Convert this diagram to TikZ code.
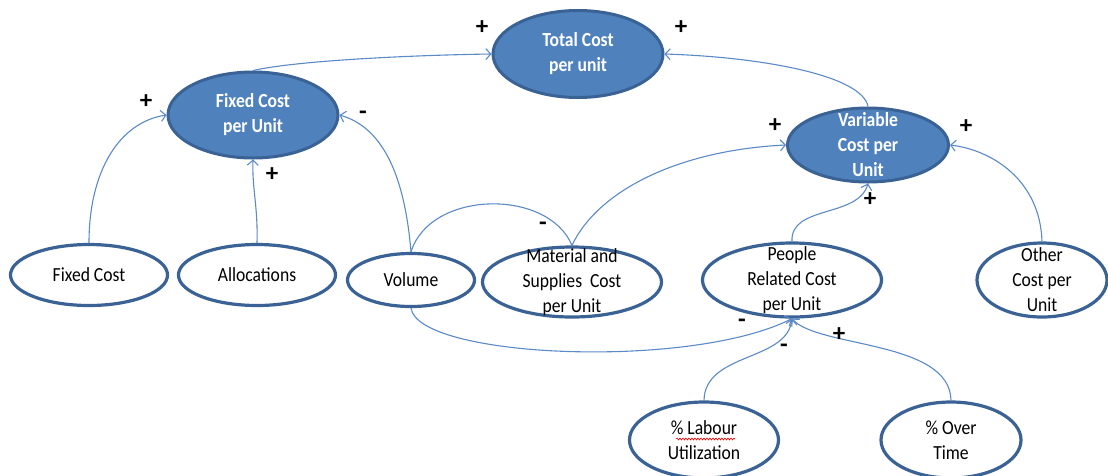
\documentclass[tikz,border=0pt]{standalone}
\usepackage{fontspec}
\setmainfont{Carlito}
\newfontfamily\cf[FakeStretch=0.88]{Carlito}
\usetikzlibrary{shapes.geometric,arrows.meta,decorations.pathmorphing}
\definecolor{fl}{HTML}{4F81BD}
\definecolor{bd}{HTML}{3A6294}
\definecolor{ln}{HTML}{5B8AC6}
\begin{document}
\begin{tikzpicture}[x=1pt,y=-1pt,
  filled/.style={ellipse, draw=bd, fill=fl, line width=3pt, inner sep=0pt},
  plain/.style={ellipse, draw=bd, fill=white, line width=3.2pt, inner sep=0pt},
  wtxt/.style={font=\cf\fontsize{20}{25}\selectfont\bfseries, text=white, align=center, inner sep=0pt},
  btxt/.style={font=\cf\fontsize{20}{25}\selectfont, text=black, align=center, inner sep=0pt},
  sgn/.style={font=\fontsize{25}{25}\selectfont\bfseries, text=black, inner sep=0pt},
  conn/.style={draw=ln, line width=1.1pt, -{Straight Barb[length=5pt,width=11pt]}},
  plainconn/.style={draw=ln, line width=1.1pt}]
\useasboundingbox (0,0) rectangle (1108,475);
% nodes
\node[filled, minimum width=170pt, minimum height=87pt, label={[wtxt]center:Total Cost\\per unit}] (tot) at (578,54) {};
\node[filled, minimum width=170pt, minimum height=86pt, label={[wtxt]center:Fixed Cost\\per Unit}] (fpu) at (253,115) {};
\node[filled, minimum width=161pt, minimum height=74pt, label={[wtxt]center:Variable\\Cost per\\Unit}] (var) at (868,145) {};
\node[plain, minimum width=157pt, minimum height=61pt, label={[btxt]center:Fixed Cost}] (fc) at (89,275) {};
\node[plain, minimum width=157pt, minimum height=61pt, label={[btxt]center:Allocations}] (al) at (257,275) {};
\node[plain, minimum width=127pt, minimum height=53pt, label={[btxt]center:Volume}] (vol) at (411,280) {};
\node[plain, minimum width=179pt, minimum height=70pt, label={[btxt]center:Material and\\Supplies~ Cost\\per Unit}] (mat) at (572,282) {};
\node[plain, minimum width=179pt, minimum height=74pt, label={[btxt]center:People\\Related Cost\\per Unit}] (pr) at (792,280) {};
\node[plain, minimum width=130pt, minimum height=74pt, label={[btxt]center:Other\\Cost per\\Unit}] (oc) at (1042,280) {};
\node[plain, minimum width=149pt, minimum height=76pt, label={[btxt]center:\% Labour\\Utilization}] (lab) at (704,440) {};
\node[plain, minimum width=140pt, minimum height=76pt, label={[btxt]center:\% Over\\Time}] (ot) at (951,440) {};
% spell-check underline
\coordinate (wa) at (676,439);
\coordinate (wb) at (735,439);
\draw[red, line width=0.6pt, decorate, decoration={snake, amplitude=1pt, segment length=3pt}] (wa) -- (wb);
% connectors
\draw[conn] (fpu.north) .. controls (300,60) and (420,55) .. (tot.west);
\draw[conn] (var.north) .. controls (862,75) and (760,57) .. (tot.east);
\draw[conn] (fc.north) .. controls (89,170) and (120,122) .. (fpu.west);
\draw[conn] (al.north) .. controls (258,205) and (252,190) .. (fpu.south);
\draw[conn] (vol.north) .. controls (405,180) and (385,128) .. (fpu.east);
\draw[plainconn] (vol.north) .. controls (430,190) and (548,188) .. (mat.north);
\draw[conn] (mat.north) .. controls (598,190) and (680,150) .. (var.west);
\draw[conn] (pr.north) .. controls (790,205) and (858,218) .. (var.south);
\draw[conn] (oc.north) .. controls (1040,180) and (992,150) .. (var.east);
\draw[conn] (vol.south) .. controls (418,358) and (690,370) .. (pr.south);
\draw[conn] (lab.north) .. controls (705,352) and (787,362) .. (pr.south);
\draw[conn] (ot.north) .. controls (950,340) and (818,348) .. (pr.south);
% signs
\node[sgn] (s1) at (482,28) {+};
\node[sgn] (s2) at (681,28) {+};
\node[sgn] (s3) at (146,102) {+};
\node[sgn] (s4) at (272,175) {+};
\node[sgn] (s5) at (363,115) {-};
\node[sgn] (s6) at (543,226) {-};
\node[sgn] (s7) at (775,126) {+};
\node[sgn] (s8) at (966,127) {+};
\node[sgn] (s9) at (870,200) {+};
\node[sgn] (s10) at (742,323) {-};
\node[sgn] (s11) at (784,348) {-};
\node[sgn] (s12) at (839,335) {+};
\end{tikzpicture}
\end{document}
